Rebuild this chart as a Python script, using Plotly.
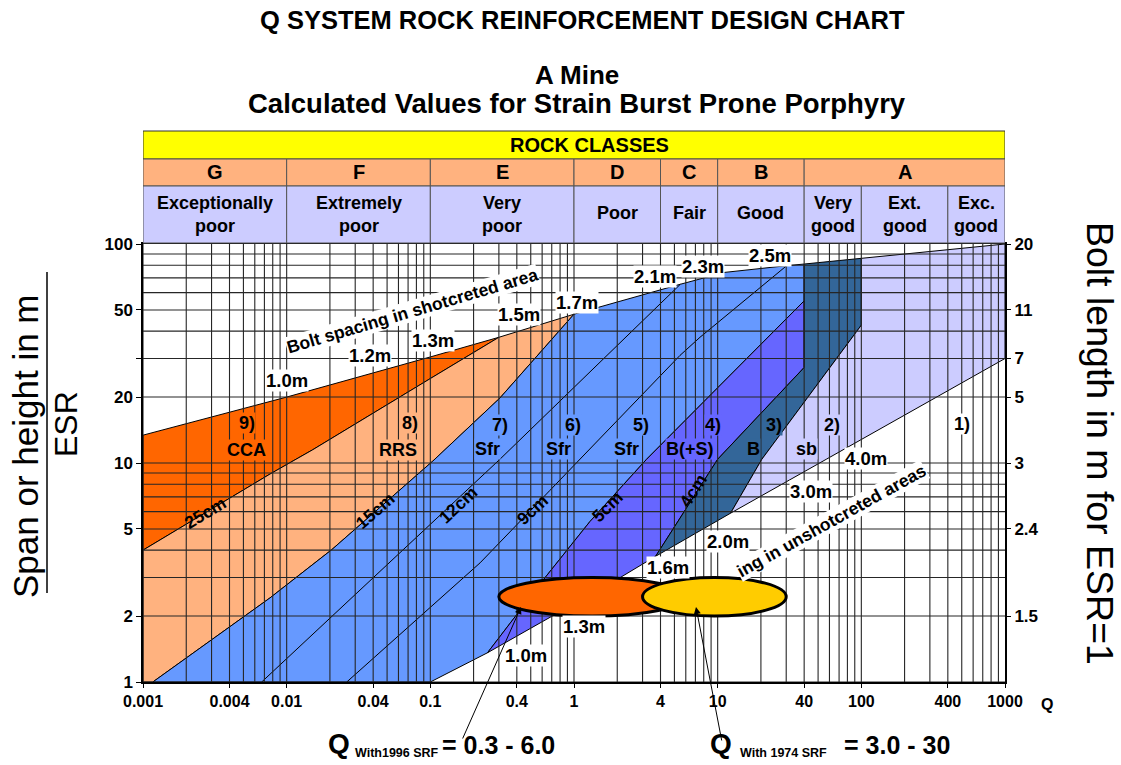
import math
import plotly.graph_objects as go

# ---------------------------------------------------------------------------
# Chart data: boundary lines of the Q-system support categories
# (Q value, span or height / ESR in m)
# ---------------------------------------------------------------------------
TOP_Q = [0.001, 0.01, 0.1, 0.3, 1, 5.5, 11.2, 30.2, 40, 100, 1000]
TOP_S = [13.4, 20, 30.5, 37.5, 47.8, 65.5, 74.2, 79.6, 81, 86, 100]

LOW_Q = [0.1, 0.25, 2.1, 3.7, 12.3, 57, 1000]
LOW_S = [1.0, 1.36, 3.0, 3.75, 5.9, 10.4, 30]

L25_Q = [0.001, 0.00765, 0.0152, 0.1, 0.3]
L25_S = [4.0, 8.9, 11.5, 24.3, 37.5]

L15_Q = [0.00117, 0.00765, 0.0206, 0.104, 0.305, 1]
L15_S = [1.0, 2.42, 4.02, 10.2, 19.8, 47.8]

L12_Q = [0.0067, 0.305, 5.5]
L12_S = [1.0, 10.4, 65.5]

L9_Q = [0.0262, 0.222, 0.68, 1.1, 5.47, 7.53, 30.2]
L9_S = [1.0, 3.5, 7.5, 10.4, 31, 37.5, 79.6]

L5_Q = [0.25, 0.63, 1.29, 3.2, 40]
L5_S = [1.36, 3.0, 5.4, 10.4, 55]

L4_Q = [3.7, 10, 40]
L4_S = [3.75, 10.4, 27.3]

SB_Q = [12.3, 20.3, 100]
SB_S = [5.9, 10.4, 42.6]

# Q ranges of the two evaluations (ellipses) and the span band they sit in
Q_1996 = [0.3, 6.0]
Q_1974 = [3.0, 30]
ELLIPSE_SPAN = [2, 3]

# Axis ticks
X_TICKS = [0.001, 0.004, 0.01, 0.04, 0.1, 0.4, 1, 4, 10, 40, 100, 400, 1000]
Y_TICKS = [1, 2, 5, 10, 20, 30, 50, 100]
Y_TICK_TEXT = ["1", "2", "5", "10", "20", "", "50", "100"]
BOLT_TICKS = [2, 5, 10, 20, 30, 50, 100]
BOLT_TEXT = ["1.5", "2.4", "3", "5", "7", "11", "20"]

# Rock class header
CLASS_EDGES = [0.001, 0.01, 0.1, 1, 4, 10, 40, 1000]
CLASS_LETTERS = ["G", "F", "E", "D", "C", "B", "A"]
QUALITY_EDGES = [0.001, 0.01, 0.1, 1, 4, 10, 40, 100, 400, 1000]
QUALITY_NAMES = [("Exceptionally", "poor"), ("Extremely", "poor"), ("Very", "poor"),
                 ("Poor",), ("Fair",), ("Good",), ("Very", "good"),
                 ("Ext.", "good"), ("Exc.", "good")]

# Colours
C_CCA = "#FF6600"
C_RRS = "#FFB27F"
C_SFR = "#6699FF"
C_BS = "#6666FF"
C_B = "#336699"
C_SB = "#CCCCFF"
C_YEL = "#FFFF00"
C_ELL2 = "#FFCC00"
C_GRID = "#262626"

FONT = "Liberation Sans, Arial, sans-serif"

# ---------------------------------------------------------------------------
# Layout geometry helpers (pixel -> axis / paper coordinates)
# ---------------------------------------------------------------------------
W, H = 1121, 765
ML, MR, MT, MB = 143, 116, 244, 83
PW, PH = W - ML - MR, H - MT - MB
XR, YR = (-3, 3), (0, 2)


def lx(px):
    return XR[0] + (px - ML) / PW * (XR[1] - XR[0])


def ly(py):
    return YR[0] + (H - MB - py) / PH * (YR[1] - YR[0])


def fx(px):
    return (px - ML) / PW


def fy(py):
    return (H - MB - py) / PH


def q_mid_px(a, b):
    """Pixel column halfway (in log scale) between two Q values."""
    return ML + ((math.log10(a) + math.log10(b)) / 2 - XR[0]) / (XR[1] - XR[0]) * PW


fig = go.Figure()


def region(xs, ys, color):
    xs = list(xs) + [xs[0]]
    ys = list(ys) + [ys[0]]
    fig.add_trace(go.Scatter(x=xs, y=ys, mode="lines", fill="toself",
                             fillcolor=color, line=dict(color="black", width=1),
                             hoverinfo="skip", showlegend=False))


# 9) CCA
region(TOP_Q[0:4] + L25_Q[::-1], TOP_S[0:4] + L25_S[::-1], C_CCA)
# 8) RRS
region([0.001] + L25_Q + [TOP_Q[4]] + L15_Q[::-1],
       [1.0] + L25_S + [TOP_S[4]] + L15_S[::-1], C_RRS)
# 7)-5) Sfr
region(L15_Q + TOP_Q[5:9] + L5_Q[::-1] + LOW_Q[1::-1],
       L15_S + TOP_S[5:9] + L5_S[::-1] + LOW_S[1::-1], C_SFR)
# 4) B(+S)
region(L5_Q + L4_Q[::-1] + LOW_Q[2:0:-1],
       L5_S + L4_S[::-1] + LOW_S[2:0:-1], C_BS)
# 3) B
region(L4_Q + TOP_Q[8:10] + SB_Q[::-1] + LOW_Q[3:2:-1],
       L4_S + TOP_S[8:10] + SB_S[::-1] + LOW_S[3:2:-1], C_B)
# 2) sb
region(SB_Q + TOP_Q[9:] + LOW_Q[:3:-1],
       SB_S + TOP_S[9:] + LOW_S[:3:-1], C_SB)

for qs, ss in [(L12_Q, L12_S), (L9_Q, L9_S)]:
    fig.add_trace(go.Scatter(x=qs, y=ss, mode="lines",
                             line=dict(color="black", width=1),
                             hoverinfo="skip", showlegend=False))

# invisible trace that carries the right-hand bolt length axis
fig.add_trace(go.Scatter(x=[1], y=[1], yaxis="y2", mode="markers",
                         marker=dict(opacity=0), hoverinfo="skip",
                         showlegend=False))

shapes = []
# log grid drawn over the coloured areas
for d in range(-3, 3):
    for k in range(1, 10):
        q = k * 10 ** d
        shapes.append(dict(type="line", xref="x", yref="paper", x0=q, x1=q,
                           y0=0, y1=1, layer="above",
                           line=dict(color=C_GRID, width=1.1)))
for d in range(0, 2):
    for k in range(1, 10):
        s = k * 10 ** d
        shapes.append(dict(type="line", xref="paper", yref="y", x0=0, x1=1,
                           y0=s, y1=s, layer="above",
                           line=dict(color=C_GRID, width=1.1)))

# header table
hy = [fy(243), fy(186), fy(159), fy(131)]
shapes.append(dict(type="rect", xref="x", yref="paper", x0=0.001, x1=1000,
                   y0=hy[2], y1=hy[3], fillcolor=C_YEL,
                   line=dict(color="#333333", width=1)))
for a, b in zip(CLASS_EDGES[:-1], CLASS_EDGES[1:]):
    shapes.append(dict(type="rect", xref="x", yref="paper", x0=a, x1=b,
                       y0=hy[1], y1=hy[2], fillcolor=C_RRS,
                       line=dict(color="#555555", width=1)))
for a, b in zip(QUALITY_EDGES[:-1], QUALITY_EDGES[1:]):
    shapes.append(dict(type="rect", xref="x", yref="paper", x0=a, x1=b,
                       y0=hy[0], y1=hy[1], fillcolor=C_SB,
                       line=dict(color="#555555", width=1)))

# fraction bar of the left axis title
shapes.append(dict(type="line", xref="paper", yref="paper", x0=fx(47), x1=fx(47),
                   y0=fy(593), y1=fy(272), line=dict(color="black", width=1.5)))

# evaluated Q ranges
shapes.append(dict(type="circle", xref="x", yref="y", x0=Q_1996[0], x1=Q_1996[1],
                   y0=ELLIPSE_SPAN[0], y1=ELLIPSE_SPAN[1], fillcolor=C_CCA,
                   layer="above", line=dict(color="black", width=3)))
shapes.append(dict(type="circle", xref="x", yref="y", x0=Q_1974[0], x1=Q_1974[1],
                   y0=ELLIPSE_SPAN[0], y1=ELLIPSE_SPAN[1], fillcolor=C_ELL2,
                   layer="above", line=dict(color="black", width=3)))

ann = []


def txt(s, x, y, size, ref="paper", angle=0, bg=None, bold=True, **kw):
    d = dict(text=s, x=x, y=y, xref=ref if ref == "paper" else "x",
             yref=ref if ref == "paper" else "y", showarrow=False,
             textangle=angle, xanchor="center", yanchor="middle",
             font=dict(family=FONT, size=size, color="black",
                       weight="bold" if bold else "normal"))
    if bg:
        d["bgcolor"] = bg
        d["borderpad"] = 0
    d.update(kw)
    ann.append(d)


def dtxt(s, px, py, size, angle=0, bg=None, bold=True):
    txt(s, lx(px), ly(py), size, ref="data", angle=angle, bg=bg, bold=bold)


# titles
txt("Q SYSTEM ROCK REINFORCEMENT DESIGN CHART", fx(582), fy(20), 25.5)
txt("A Mine", fx(577), fy(75), 26)
txt("Calculated Values for Strain Burst Prone Porphyry", fx(577), fy(103), 27.5)

# header texts
txt("ROCK CLASSES", fx(589), fy(145), 20)
for a, b, letter in zip(CLASS_EDGES[:-1], CLASS_EDGES[1:], CLASS_LETTERS):
    txt(letter, fx(q_mid_px(a, b)), fy(172), 20)
for a, b, name in zip(QUALITY_EDGES[:-1], QUALITY_EDGES[1:], QUALITY_NAMES):
    mid = q_mid_px(a, b)
    if len(name) == 2:
        txt(name[0], fx(mid), fy(203), 18)
        txt(name[1], fx(mid), fy(226), 18)
    else:
        txt(name[0], fx(mid), fy(213), 18)

# support category labels
for num, px, py, bg in [("9)", 247, 423, C_CCA), ("8)", 410, 423, C_RRS),
                        ("7)", 500, 425, C_SFR), ("6)", 573, 425, C_SFR),
                        ("5)", 641, 425, C_SFR), ("4)", 713, 425, C_BS),
                        ("3)", 774, 425, C_B), ("2)", 832, 425, C_SB),
                        ("1)", 962, 424, "white")]:
    dtxt(num, px, py, 18, bg=bg)
for lab, px, py, bg in [("CCA", 246, 450, C_CCA), ("RRS", 398, 450, C_RRS),
                        ("Sfr", 487, 449, C_SFR), ("Sfr", 558, 449, C_SFR),
                        ("Sfr", 626, 449, C_SFR), ("B(+S)", 690, 449, C_BS),
                        ("B", 753, 449, C_B), ("sb", 806, 449, C_SB)]:
    dtxt(lab, px, py, 18, bg=bg)

# bolt spacing in shotcreted area
for lab, px, py in [("1.0m", 287, 380), ("1.2m", 370, 355), ("1.3m", 433, 340),
                    ("1.5m", 519, 314), ("1.7m", 577, 302), ("2.1m", 655, 276),
                    ("2.3m", 703, 266), ("2.5m", 770, 255)]:
    dtxt(lab, px, py, 18.5, bg="white")
dtxt("Bolt spacing in shotcreted area", 412, 311, 17.5, angle=-16.4, bg="white")

# bolt spacing in unshotcreted areas
for lab, px, py in [("1.0m", 526, 655), ("1.3m", 584, 626), ("1.6m", 668, 567),
                    ("2.0m", 728, 541), ("3.0m", 811, 491), ("4.0m", 866, 458)]:
    dtxt(lab, px, py, 18.5, bg="white")
dtxt("ing in unshotcreted areas", 831, 521, 17.5, angle=-29, bg="white")

# shotcrete thickness labels
for lab, px, py, ang in [("25cm", 205, 513, -31), ("15cm", 375, 511, -41),
                         ("12cm", 458, 505, -43), ("9cm", 532, 510, -43),
                         ("5cm", 607, 507, -45), ("4cm", 693, 491, -57)]:
    dtxt(lab, px, py, 17.5, angle=ang)

# arrows to the ellipses
for tip, tail in [((521, 607), (462, 740)), ((696, 607), (722, 742))]:
    ann.append(dict(text="", x=lx(tip[0]), y=ly(tip[1]), xref="x", yref="y",
                    showarrow=True, ax=tail[0] - tip[0], ay=tail[1] - tip[1],
                    arrowhead=2, arrowsize=1.4, arrowwidth=1, arrowcolor="black",
                    standoff=0))

# Q range captions
txt("Q", fx(339), fy(743), 28)
txt("With1996 SRF", fx(397), fy(753), 12.5)
txt(f"= {Q_1996[0]} - {Q_1996[1]}", fx(498), fy(745), 25)
txt("Q", fx(721), fy(743), 28)
txt("With 1974 SRF", fx(783), fy(753), 12.5)
txt(f"= {Q_1974[0]} - {Q_1974[1]}", fx(897), fy(745), 25)

# axis end label and axis titles
txt("Q", fx(1047), fy(704), 16)
txt("Span or height in m", fx(25), fy(446), 35, angle=-90, bold=False)
txt("ESR", fx(66), fy(424), 32, angle=-90, bold=False)
txt("Bolt length in m for ESR=1", fx(1100), fy(443), 37.5, angle=90, bold=False)

fig.update_layout(
    width=W, height=H,
    margin=dict(l=ML, r=MR, t=MT, b=MB, pad=0),
    paper_bgcolor="white", plot_bgcolor="white",
    showlegend=False,
    shapes=shapes, annotations=ann,
    font=dict(family=FONT, color="black"),
    xaxis=dict(type="log", range=list(XR), tickvals=X_TICKS,
               ticktext=[f"{v:g}" for v in X_TICKS],
               ticks="outside", ticklen=4, tickcolor="black",
               tickfont=dict(family=FONT, size=16, weight="bold"),
               showgrid=False, zeroline=False, showline=True,
               linecolor="black", linewidth=1.5, mirror=True),
    yaxis=dict(type="log", range=list(YR), tickvals=Y_TICKS, ticktext=Y_TICK_TEXT,
               ticks="outside", ticklen=5, tickcolor="black",
               tickfont=dict(family=FONT, size=17, weight="bold"),
               showgrid=False, zeroline=False, showline=True,
               linecolor="black", linewidth=1.5, mirror=True),
    yaxis2=dict(type="log", range=list(YR), overlaying="y", side="right",
                tickvals=BOLT_TICKS, ticktext=BOLT_TEXT, ticks="outside",
                ticklen=5, tickcolor="black",
                tickfont=dict(family=FONT, size=17, weight="bold"),
                showgrid=False, zeroline=False, showline=False),
)

fig.write_html("out.html")
